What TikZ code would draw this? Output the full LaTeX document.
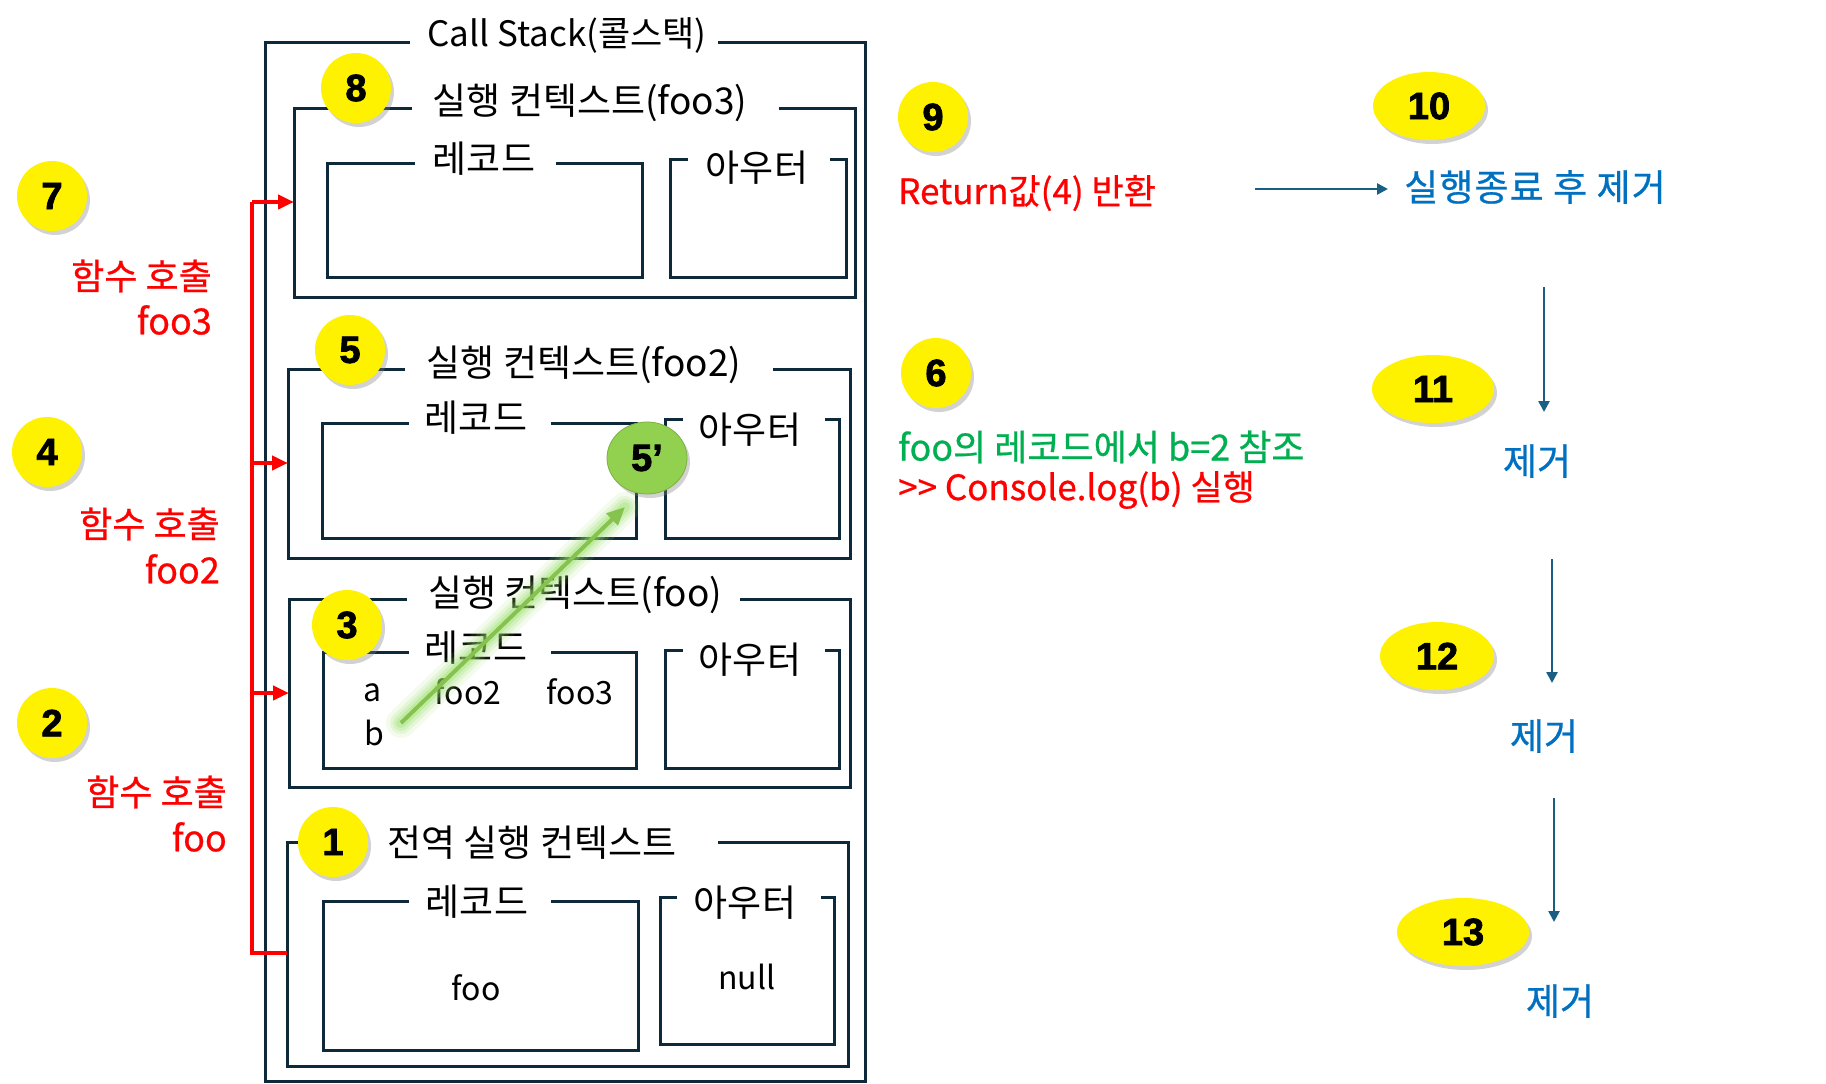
\documentclass[tikz,border=0pt]{standalone}
\usepackage{fontspec}
\setmainfont{Noto Sans CJK KR}
\newfontfamily\numfont{Liberation Sans}[BoldFeatures={FakeBold=2}]
\newfontfamily\colfont{Noto Sans CJK KR}[FakeBold=0.7]
\usetikzlibrary{arrows.meta,shadows,shapes.geometric}
\definecolor{boxc}{HTML}{0E2A3A}
\definecolor{redc}{HTML}{FF0000}
\definecolor{greenc}{HTML}{00B050}
\definecolor{bluec}{HTML}{0070C0}
\definecolor{arrc}{HTML}{1B5E84}
\definecolor{badgeg}{HTML}{92D050}
\definecolor{glow}{HTML}{9BE06A}
\definecolor{garr}{HTML}{86C34E}
\newcommand\gbox[7]{%
  \node[inner sep=0pt, outer sep=0pt, minimum width={#4-#2}, minimum height={#5-#3}, anchor=north west] (#1) at (#2,#3) {};
  \draw[boxline] (#7,#3) -- (#4,#3) -- (#4,#5) -- (#2,#5) -- (#2,#3) -- (#6,#3);
}
\tikzset{
  boxline/.style={draw=boxc, line width=3pt},
  ttl/.style={inner sep=0pt, font=\fontsize{37}{42}\selectfont, text=black},
  plain/.style={inner sep=0pt, font=\fontsize{32}{38}\selectfont, text=black},
  badge/.style={circle, fill=yellow, minimum size=70pt, inner sep=0pt,
     font=\numfont\bfseries\fontsize{38}{38}\selectfont,
     drop shadow={shadow xshift=3pt, shadow yshift=-4pt, opacity=0.35}},
  obadge/.style={ellipse, fill=yellow, minimum width=112pt, minimum height=68pt, inner sep=0pt,
     font=\numfont\bfseries\fontsize{38}{38}\selectfont,
     drop shadow={shadow xshift=3pt, shadow yshift=-4pt, opacity=0.35}},
  redtxt/.style={inner sep=0pt, text=redc, font=\colfont\fontsize{36}{42}\selectfont},
  greentxt/.style={inner sep=0pt, text=greenc, font=\colfont\fontsize{36}{42}\selectfont},
  bluetxt/.style={inner sep=0pt, text=bluec, font=\colfont\fontsize{37}{42}\selectfont},
  redline/.style={draw=redc, line width=4pt},
  redarrow/.style={draw=redc, line width=4pt, -{Triangle[length=16pt,width=14pt]}},
  bluearrow/.style={draw=arrc, line width=2.5pt, -{Triangle[length=11pt,width=11pt]}},
}
\begin{document}
\begin{tikzpicture}[x=1pt,y=-1pt]
\fill[white] (0,0) rectangle (1826,1084);
\useasboundingbox (0,0) rectangle (1826,1084);

% ---- boxes ----
\gbox{stack}{265}{42}{865}{1081}{410}{718}
\node[ttl, font=\fontsize{35}{40}\selectfont] (tstack) at (567,35) {Call Stack(콜스택)};

\gbox{ctx3}{294}{108}{855}{297}{412}{779}
\node[ttl] (tctx3) at (590,103) {실행 컨텍스트(foo3)};
\gbox{rec3}{327}{163}{642}{277}{415}{556}
\node[ttl] (trec3) at (484,159) {레코드};
\gbox{out3}{670}{159}{846}{277}{688}{830}
\node[ttl] (tout3) at (757,168) {아우터};

\gbox{ctx2}{288}{369}{850}{558}{405}{773}
\node[ttl] (tctx2) at (584,365) {실행 컨텍스트(foo2)};
\gbox{rec2}{322}{423}{636}{538}{409}{551}
\node[ttl] (trec2) at (476,418) {레코드};
\gbox{out2}{665}{419}{839}{538}{683}{825}
\node[ttl] (tout2) at (750,430) {아우터};

\gbox{ctx1}{289}{599}{850}{787}{407}{740}
\node[ttl] (tctx1) at (575,595) {실행 컨텍스트(foo)};
\gbox{rec1}{323}{652}{636}{768}{409}{551}
\node[ttl] (trec1) at (476,648) {레코드};
\gbox{out1}{665}{650}{839}{768}{683}{825}
\node[ttl] (tout1) at (750,660) {아우터};
\node[plain] (va) at (373,693) {a};
\node[plain] (vb) at (374,733) {b};
\node[plain] (vfoo2) at (468,692) {foo2};
\node[plain] (vfoo3) at (580,692) {foo3};

\gbox{ctxg}{287}{842}{848}{1066}{300}{718}
\node[ttl] (tctxg) at (532,843) {전역 실행 컨텍스트};
\gbox{recg}{323}{901}{638}{1050}{409}{551}
\node[ttl] (trecg) at (477,902) {레코드};
\gbox{outg}{660}{897}{834}{1044}{677}{821}
\node[ttl] (toutg) at (745,903) {아우터};
\node[plain] (vfoo) at (476,988) {foo};
\node[plain] (vnull) at (747,977) {null};

% ---- badges in the stack ----
\node[badge] (b8) at (356,88) {8};
\node[badge] (b5) at (350,350) {5};
\node[badge] (b3) at (347,625) {3};
\node[badge] (b1) at (333,842) {1};

% ---- red call connectors ----
\coordinate (rb) at (252,953);
\coordinate (r3) at (252,202);
\coordinate (r2) at (252,463);
\coordinate (r1) at (252,693);
\draw[redline] (rb -| ctxg.west) -- (rb) -- (r3);
\draw[redarrow] (r3) -- (r3 -| ctx3.west);
\draw[redarrow] (r2) -- (r2 -| ctx2.west);
\draw[redarrow] (r1) -- (r1 -| ctx1.west);

% ---- left labels ----
\node[badge] (b7) at (52,196) {7};
\node[redtxt, anchor=east] (l7a) at (212,276) {함수 호출};
\node[redtxt, anchor=east] (l7b) at (212,320) {foo3};
\node[badge] (b4) at (47,452) {4};
\node[redtxt, anchor=east] (l4a) at (220,524) {함수 호출};
\node[redtxt, anchor=east] (l4b) at (220,569) {foo2};
\node[badge] (b2) at (52,723) {2};
\node[redtxt, anchor=east] (l2a) at (227,792) {함수 호출};
\node[redtxt, anchor=east] (l2b) at (227,837) {foo};

% ---- green reference arrow ----
\coordinate (gs) at (401,723);
\coordinate (ge) at (625,507);
\foreach \w/\o in {30/0.12,22/0.16,16/0.22,10/0.32}{
  \draw[glow, line width=\w pt, opacity=\o, line cap=round] (gs) -- (ge);
}
\draw[garr, line width=4pt, -{Triangle[length=18pt,width=16pt]}] (gs) -- (ge);
\node[ellipse, fill=badgeg, draw=badgeg!85!black, line width=0.8pt, minimum width=80pt, minimum height=72pt, inner sep=0pt,
  font=\numfont\bfseries\fontsize{38}{38}\selectfont,
  drop shadow={shadow xshift=3pt, shadow yshift=-4pt, opacity=0.35}] (b5p) at (647,458) {5’};

% ---- right side ----
\node[badge] (b9) at (933,117) {9};
\node[redtxt, font=\colfont\fontsize{35}{40}\selectfont, anchor=west] (ret) at (898,193) {Return값(4) 반환};
\node[badge] (b6) at (936,373) {6};
\node[greentxt, anchor=west] (ref) at (898,447) {foo의 레코드에서 b=2 참조};
\node[redtxt, font=\colfont\fontsize{35}{40}\selectfont, anchor=west] (con) at (898,490) {>\kern0pt> Console.log(b) 실행};

\node[obadge] (b10) at (1429,106) {10};
\node[bluetxt, anchor=west, font=\colfont\fontsize{37}{42}\selectfont\addfontfeatures{LetterSpace=3}] (rm0) at (1404,187) {실행종료 후 제거};
\coordinate (a0s) at (1255,189);
\draw[bluearrow, shorten >=16pt] (a0s) -- (a0s -| rm0.west);

\node[obadge, minimum width=122pt] (b11) at (1433,389) {11};
\node[bluetxt] (rm1) at (1537,461) {제거};
\node[obadge, minimum width=114pt] (b12) at (1437,656) {12};
\node[bluetxt] (rm2) at (1544,736) {제거};
\node[obadge, minimum width=132pt] (b13) at (1463,932) {13};
\node[bluetxt] (rm3) at (1560,1001) {제거};

\coordinate (d1s) at (1544,287); \coordinate (d1e) at (1544,412);
\coordinate (d2s) at (1552,559); \coordinate (d2e) at (1552,683);
\coordinate (d3s) at (1554,798); \coordinate (d3e) at (1554,922);
\draw[bluearrow] (d1s) -- (d1e);
\draw[bluearrow] (d2s) -- (d2e);
\draw[bluearrow] (d3s) -- (d3e);
\end{tikzpicture}
\end{document}
